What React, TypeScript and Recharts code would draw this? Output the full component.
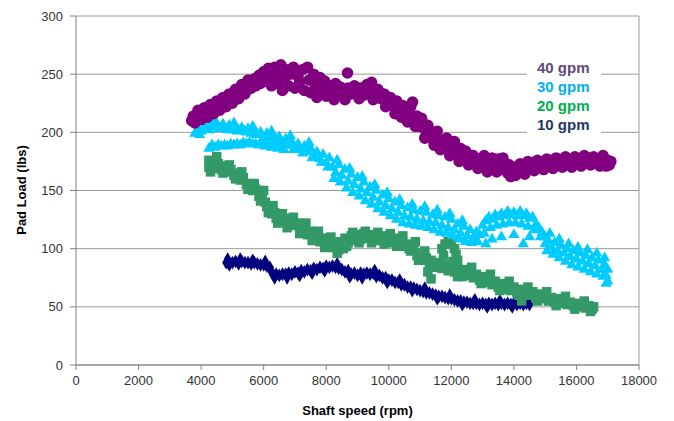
import React from "react";
import {
  CartesianGrid,
  ReferenceLine,
  Scatter,
  ScatterChart,
  Symbols,
  XAxis,
  YAxis,
} from "recharts";

// shaft speed (rpm), pad load (lbs)
const gpm40: [number, number][] = [
  [3700, 210], [3750, 214], [3850, 212], [3950, 216], [4050, 215], [4150, 218], [4250, 217], [4350, 221],
  [4450, 220], [4550, 224], [4650, 223], [4750, 227], [4850, 226], [4950, 230], [5050, 229], [5150, 234],
  [5250, 232], [5350, 238], [5450, 236], [5550, 242], [5600, 238], [5700, 246], [5750, 240], [5850, 249],
  [5900, 242], [6000, 252], [6050, 244], [6150, 255], [6200, 246], [6250, 240], [6350, 256], [6400, 250],
  [6450, 242], [6550, 258], [6600, 236], [6650, 247], [6700, 254], [6800, 240], [6850, 250], [6950, 256],
  [7000, 238], [7100, 248], [7150, 243], [7250, 254], [7300, 236], [7400, 256], [7450, 245], [7500, 234],
  [7600, 250], [7650, 240], [7700, 230], [7800, 247], [7850, 236], [7950, 244], [8000, 231], [8100, 240],
  [8200, 234], [8300, 242], [8350, 232], [8450, 239], [8550, 233], [8680, 251], [8700, 238], [8800, 233],
  [8900, 240], [9000, 234], [9100, 238], [9200, 232], [9300, 241], [9400, 236], [9450, 243], [9550, 232],
  [9650, 237], [9750, 229], [9850, 233], [9950, 226], [10050, 230], [10150, 222], [10250, 227], [10350, 219],
  [10450, 223], [10550, 215], [10650, 219], [10760, 226], [10800, 211], [10900, 214], [11000, 205], [11100, 208],
  [11200, 199], [11300, 202], [11400, 194], [11500, 197], [11600, 189], [11700, 193], [11800, 186], [11900, 190],
  [12000, 184], [12100, 192], [12200, 181], [12300, 186], [12400, 178], [12500, 182], [12600, 176], [12700, 180],
  [12800, 173], [12900, 177], [13000, 171], [13100, 176], [13200, 169], [13300, 178], [13400, 172], [13500, 177],
  [13600, 168], [13700, 174], [13800, 165], [13900, 162], [14000, 170], [14100, 166], [14200, 173], [14300, 168],
  [14400, 172], [14500, 169], [14600, 174], [14700, 170], [14800, 175], [14900, 171], [15000, 174], [15100, 171],
  [15200, 176], [15300, 172], [15400, 175], [15500, 172], [15600, 177], [15700, 173], [15800, 176], [15900, 173],
  [16000, 178], [16100, 174], [16200, 177], [16300, 174], [16400, 178], [16500, 174], [16600, 177], [16700, 173],
  [16800, 178], [16900, 174], [17000, 176], [17050, 172],
];
const gpm40Edge: [number, number][] = [
  [3800, 208], [4000, 211], [4200, 213], [4400, 216], [4600, 219], [4800, 222], [5000, 225], [5200, 229],
  [5400, 233], [3900, 219], [4100, 221], [4300, 224], [4500, 227], [4700, 230], [4900, 233], [5100, 237],
  [5300, 241], [5500, 245], [7750, 243], [8050, 236], [8250, 228], [8400, 237], [8600, 228], [8850, 236],
  [9050, 229], [9250, 236], [9500, 228], [9700, 234], [9900, 222], [10100, 226], [10200, 216], [10400, 213],
  [10600, 209], [10700, 222], [10850, 205], [11050, 212], [11150, 195], [11250, 206], [11450, 189], [11550, 201],
  [11650, 185], [11850, 195], [11950, 180], [12150, 186], [12250, 175], [12450, 184], [12550, 172], [12750, 176],
  [12850, 169], [13050, 180], [13150, 166], [13350, 173], [13450, 166], [13650, 178], [13750, 170], [13850, 172],
  [13950, 167], [14050, 163], [14150, 170], [14350, 164], [14450, 175], [14650, 167], [14750, 176], [14950, 168],
  [15050, 177], [15250, 169], [15350, 178], [15550, 170], [15650, 179], [15850, 170], [15950, 179], [16150, 171],
  [16250, 180], [16450, 172], [16550, 179], [16750, 171], [16850, 180], [16950, 171], [17100, 175],
];

const gpm30: [number, number][] = [
  [3800, 199], [3900, 203], [4000, 201], [4100, 205], [4200, 203], [4300, 207], [4400, 205], [4500, 207],
  [4600, 204], [4700, 207], [4800, 203], [4900, 206], [5000, 202], [5100, 205], [5200, 202], [5300, 204],
  [5400, 201], [5500, 203], [5600, 199], [5700, 202], [5800, 198], [5900, 200], [6000, 196], [6100, 199],
  [6200, 195], [6300, 197], [6400, 193], [6500, 196], [6600, 191], [6700, 194], [6800, 189], [6900, 192],
  [7000, 187], [7100, 190], [7200, 185], [7300, 188], [7400, 183], [7500, 186], [7600, 180], [7700, 183],
  [7800, 177], [7900, 181], [8000, 174], [8100, 178],
  [4250, 186], [4350, 189], [4450, 187], [4550, 189], [4650, 188], [4750, 189], [4850, 188], [4950, 190],
  [5050, 189], [5150, 190], [5250, 189], [5350, 191], [5450, 190], [5550, 191], [5650, 190], [5750, 190],
  [5850, 189], [5950, 190], [6050, 188], [6150, 189], [6250, 187], [6350, 188], [6450, 186], [6550, 187],
  [6650, 185],
  [8200, 170], [8300, 165], [8400, 172], [8500, 163], [8600, 168], [8700, 158], [8800, 164], [8900, 155],
  [9000, 161], [9100, 151], [9200, 157], [9300, 148], [9400, 153], [9500, 144], [9600, 150], [9700, 140],
  [9800, 146], [9900, 137], [10000, 143], [10100, 134], [10200, 140], [10300, 131], [10400, 137], [10500, 128],
  [10600, 135], [10700, 127], [10800, 133], [10900, 125], [11000, 132], [11100, 124], [11200, 131], [11300, 123],
  [11400, 129], [11500, 122], [11600, 128], [11700, 120], [11800, 127], [11900, 118], [12000, 125], [12100, 116],
  [12200, 121], [12300, 113], [12400, 119], [12500, 111], [12600, 116], [12700, 109], [12800, 114], [12900, 112],
  [13000, 120], [13100, 124], [13200, 127], [13300, 125], [13400, 129], [13500, 127], [13600, 130], [13700, 128],
  [13800, 132], [13900, 129], [14000, 131], [14100, 128], [14200, 132], [14300, 128], [14400, 130], [14500, 126],
  [14600, 127], [14700, 121], [14800, 118], [14900, 114],
  [13100, 104], [13300, 108], [13600, 110], [14000, 112], [14300, 104], [14500, 110],
  [15000, 110], [15000, 104], [15100, 107], [15200, 101], [15300, 105], [15400, 98], [15500, 103], [15600, 96],
  [15700, 100], [15800, 93], [15900, 98], [16000, 91], [16100, 96], [16200, 89], [16300, 94], [16400, 87],
  [16500, 92], [16600, 85], [16700, 90], [16800, 82], [16900, 86], [16950, 77], [17000, 82], [17000, 72],
  [16950, 70],
];
const gpm30Edge: [number, number][] = [
  [3950, 198], [4250, 202], [4550, 203], [4850, 202], [5150, 201], [5450, 200], [5750, 198], [6050, 195],
  [6350, 192], [6650, 189], [6950, 185], [7250, 182], [7550, 178], [7850, 174], [8050, 170], [4450, 210],
  [5050, 208], [5650, 205], [6250, 201], [6850, 197], [7450, 191],
  [8250, 160], [8450, 157], [8650, 152], [8850, 148], [9050, 145], [9250, 141], [9450, 138], [9650, 134],
  [9850, 131], [10050, 128], [10250, 125], [10450, 122], [10650, 121], [10850, 120], [11050, 119], [11250, 118],
  [11450, 116], [11650, 114], [11850, 113], [12050, 111], [12250, 108], [12450, 106], [12650, 105], [12850, 106],
  [8350, 176], [8750, 169], [9150, 162], [9550, 155], [9950, 148], [10350, 142], [10750, 138], [11150, 136],
  [11550, 133], [11950, 130], [12350, 124],
  [13050, 113], [13250, 118], [13450, 120], [13650, 121], [13850, 122], [14050, 122], [14250, 121], [14450, 119],
  [14650, 116], [14850, 110],
  [15050, 98], [15250, 95], [15450, 92], [15650, 89], [15850, 86], [16050, 84], [16250, 82], [16450, 80],
  [16650, 78], [16850, 76], [15150, 113], [15450, 108], [15750, 104], [16050, 101], [16350, 99], [16650, 96],
  [16900, 92],
];

const gpm20: [number, number][] = [
  [4250, 176], [4250, 170], [4400, 175], [4400, 169], [4550, 173], [4650, 168], [4750, 171], [4850, 166],
  [4950, 168], [5050, 163], [5150, 165], [5250, 159], [5350, 161], [5450, 155], [5550, 156], [5650, 150],
  [5750, 151], [5850, 145], [5950, 146], [6050, 140], [6100, 136], [6200, 135], [6250, 130], [6350, 131],
  [6400, 126], [6500, 128], [6600, 124], [6700, 126], [6800, 121], [6900, 124], [7000, 120], [7100, 122],
  [7200, 116], [7300, 119], [7400, 112], [7500, 115], [7600, 109], [7700, 112], [7800, 106], [7900, 109],
  [8000, 103], [8100, 107], [8200, 101], [8300, 105], [8400, 99], [8500, 104], [8550, 100], [8600, 109],
  [8700, 105], [8800, 111], [8900, 107], [9000, 112], [9100, 108], [9200, 113], [9300, 109], [9400, 112],
  [9500, 108], [9600, 111], [9700, 107], [9800, 111], [9900, 106], [10000, 110], [10100, 105], [10200, 109],
  [10300, 104], [10400, 108], [10500, 102], [10600, 104], [10700, 98], [10800, 100], [10900, 94], [11000, 96],
  [11100, 90], [11200, 92], [11300, 86], [11250, 80], [11350, 74], [11400, 88], [11500, 84], [11600, 88],
  [11700, 83], [11800, 86], [11900, 81],
  [11700, 100], [11800, 104], [11900, 106], [12000, 104], [12100, 100], [12150, 95], [11750, 94], [12200, 90],
  [12200, 76], [14250, 55],
  [12000, 85], [12100, 80], [12200, 83], [12300, 79], [12400, 82], [12500, 77], [12600, 80], [12700, 75],
  [12800, 78], [12900, 73], [13000, 76], [13100, 71], [13200, 74], [13300, 69], [13400, 72], [13500, 67],
  [13600, 70], [13700, 65], [13800, 68], [13900, 64], [14000, 67], [14100, 62], [14200, 65], [14300, 61],
  [14400, 64], [14500, 60], [14600, 63], [14700, 58], [14800, 61], [14900, 57], [15000, 60], [15100, 55],
  [15200, 58], [15300, 54], [15400, 57], [15500, 53], [15600, 56], [15700, 52], [15800, 54], [15900, 51],
  [16000, 53], [16100, 50], [16200, 52], [16300, 49], [16400, 51], [16500, 48], [16550, 50],
];
const gpm20Edge: [number, number][] = [
  [4300, 166], [4500, 179], [4700, 165], [4900, 172], [5100, 160], [5300, 166], [5500, 151], [5700, 156],
  [5900, 141], [6000, 150], [6150, 131], [6300, 137], [6450, 122], [6600, 130], [6750, 118], [6950, 127],
  [7150, 113], [7350, 122], [7550, 107], [7750, 115], [7950, 101], [8150, 110], [8350, 96], [8450, 106],
  [8650, 102], [8850, 114], [9050, 105], [9250, 115], [9450, 105], [9650, 114], [9850, 104], [10050, 113],
  [10250, 102], [10450, 111], [10650, 100], [10850, 106], [10950, 90], [11150, 98], [11350, 90],
  [12050, 89], [12350, 76], [12650, 84], [12950, 70], [13250, 78], [13550, 64], [13850, 72], [14150, 60],
  [14450, 67], [14750, 55], [15050, 63], [15350, 51], [15650, 59], [15950, 48], [16250, 55], [16450, 46],
];

const gpm10: [number, number][] = [
  [4800, 88], [4900, 86], [5000, 88], [5100, 89], [5200, 87], [5300, 89], [5400, 88], [5500, 88],
  [5600, 87], [5700, 88], [5800, 87], [5900, 86], [6000, 86], [6100, 85], [6200, 84], [6250, 80],
  [6300, 78], [6400, 78], [6500, 77], [6600, 78], [6700, 78], [6800, 79], [6900, 78], [7000, 80],
  [7100, 79], [7200, 81], [7300, 80], [7400, 82], [7500, 81], [7600, 83], [7700, 82], [7800, 84],
  [7900, 83], [8000, 85], [8100, 84], [8200, 85], [8300, 84], [8400, 83], [8500, 82], [8600, 80],
  [8700, 81], [8800, 78], [8900, 79], [9000, 77], [9100, 79], [9200, 78], [9300, 79], [9400, 78],
  [9500, 79], [9600, 76], [9700, 77], [9800, 75], [9900, 75], [10000, 73], [10100, 73], [10200, 71],
  [10300, 71], [10400, 69], [10500, 69], [10600, 67], [10700, 67], [10800, 66], [10900, 65], [11000, 64],
  [11100, 63], [11200, 62], [11300, 62], [11400, 61], [11500, 60], [11600, 59], [11700, 59], [11800, 58],
  [11900, 57], [12000, 57], [12100, 56], [12200, 55], [12300, 55], [12400, 54], [12500, 54], [12600, 53],
  [12700, 53], [12800, 53], [12900, 52], [13000, 53], [13100, 52], [13200, 53], [13300, 52], [13400, 53],
  [13500, 52], [13600, 53], [13700, 52], [13800, 53], [13900, 52], [14000, 53], [14100, 52], [14200, 53],
  [14300, 52], [14400, 53], [14500, 52],
];
const gpm10Edge: [number, number][] = [
  [4850, 91], [5250, 91], [5650, 90], [6050, 89], [6350, 75], [6750, 75], [7150, 77], [7550, 79],
  [7950, 81], [8350, 87], [8750, 76], [9150, 75], [9550, 81], [9950, 71], [10350, 73], [10750, 64],
  [11150, 66], [11550, 57], [11950, 60], [12350, 52], [12750, 56], [13150, 50], [13550, 55], [13950, 50],
  [14350, 55],
];

const speedTicks = [0, 2000, 4000, 6000, 8000, 10000, 12000, 14000, 16000, 18000];
const loadTicks = [0, 50, 100, 150, 200, 250, 300];

const legendItems = [
  { label: "40 gpm", color: "#604A7B" },
  { label: "30 gpm", color: "#00B0F0" },
  { label: "20 gpm", color: "#00B050" },
  { label: "10 gpm", color: "#1F3864" },
];

const toPts = (...arrs: [number, number][][]) => arrs.flat().map(([x, y]) => ({ x, y }));

const font = "Liberation Sans, Arial, sans-serif";

// marker renderer with an explicit symbol area
const marker = (type: "circle" | "triangle" | "square" | "diamond", size: number, fill: string) =>
  (props: any) => <Symbols cx={props.cx} cy={props.cy} type={type} size={size} fill={fill} />;

function LegendBox() {
  return (
    <div
      style={{
        position: "absolute",
        left: 527,
        top: 58,
        width: 64,
        padding: "0 0 0 10px",
        background: "#fff",
        fontFamily: font,
      }}
    >
      {legendItems.map((it) => (
        <div key={it.label} style={{ color: it.color, fontWeight: "bold", fontSize: 15, lineHeight: "19px" }}>
          {it.label}
        </div>
      ))}
    </div>
  );
}

export default function App() {
  const tick = { fill: "#333", fontSize: 13, fontFamily: font };
  return (
    <div style={{ position: "absolute", left: 0, top: 0, width: 674, height: 421, background: "#fff" }}>
      <ScatterChart width={674} height={421} margin={{ top: 16, right: 35, bottom: 0, left: 0 }}>
        <CartesianGrid vertical={false} stroke="#9a9a9a" />
        <XAxis
          type="number"
          dataKey="x"
          domain={[0, 18000]}
          ticks={speedTicks}
          height={56}
          stroke="#808080"
          tick={tick}
          tickSize={5}
          tickMargin={6}
          label={{
            value: "Shaft speed (rpm)",
            position: "insideBottom",
            offset: 6,
            style: { fontWeight: "bold", fontSize: 13, fill: "#000", fontFamily: font },
          }}
        />
        <YAxis
          type="number"
          dataKey="y"
          domain={[0, 300]}
          ticks={loadTicks}
          width={76}
          stroke="#808080"
          tick={tick}
          tickSize={6}
          tickMargin={7}
          label={{
            content: () => (
              <text
                x={26}
                y={190}
                transform="rotate(-90 26 190)"
                textAnchor="middle"
                style={{ fontWeight: "bold", fontSize: 13, fill: "#000", fontFamily: font }}
              >
                Pad Load (lbs)
              </text>
            ),
          }}
        />
        <ReferenceLine x={18000} stroke="#9a9a9a" />
        <Scatter name="10 gpm" data={toPts(gpm10, gpm10Edge)} fill="#000080" shape={marker("diamond", 55, "#000080")} isAnimationActive={false} />
        <Scatter name="20 gpm" data={toPts(gpm20, gpm20Edge)} fill="#339966" shape={marker("square", 90, "#339966")} isAnimationActive={false} />
        <Scatter name="30 gpm" data={toPts(gpm30, gpm30Edge)} fill="#00CCFF" shape={marker("triangle", 55, "#00CCFF")} isAnimationActive={false} />
        <Scatter name="40 gpm" data={toPts(gpm40, gpm40Edge)} fill="#800080" shape={marker("circle", 105, "#800080")} isAnimationActive={false} />
      </ScatterChart>
      <LegendBox />
    </div>
  );
}
